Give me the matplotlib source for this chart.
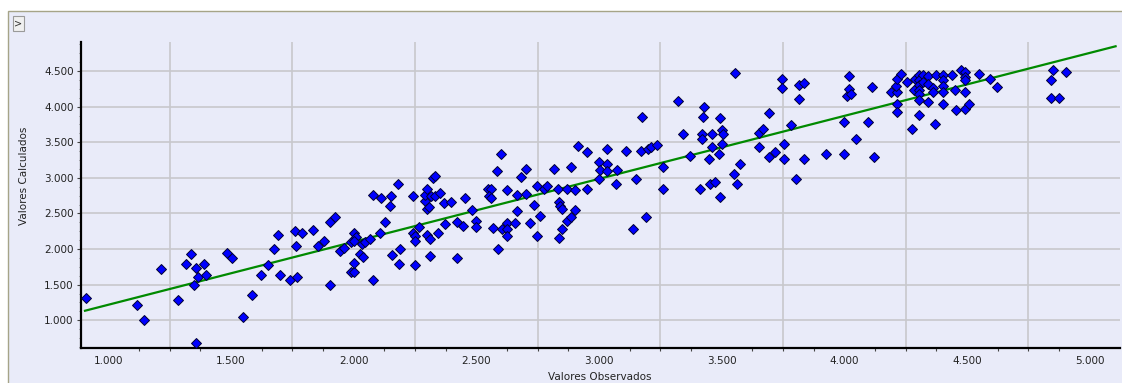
import numpy as np
import matplotlib
matplotlib.use('Agg')
import matplotlib.pyplot as plt
from matplotlib.patches import Rectangle
from matplotlib.ticker import FixedLocator, FuncFormatter

obs = [0.909, 1.118, 1.145, 1.215, 1.283, 1.336, 1.317, 1.359, 1.39, 1.367, 1.40, 1.349, 1.359,
       1.482, 1.505, 1.548, 1.584, 1.622, 1.65, 1.676, 1.69, 1.70, 1.74, 1.77, 1.76, 1.765,
       1.788, 1.834, 1.856, 1.88, 1.903, 1.923, 1.903, 1.944,
       1.96, 1.988, 2.001, 2.009, 2.001, 1.988, 2.001, 2.001, 2.024, 2.038, 2.034, 2.047, 2.066,
       2.08, 2.08, 2.107, 2.111, 2.126, 2.148, 2.153, 2.157, 2.18, 2.185, 2.19, 2.24, 2.24,
       2.251, 2.251, 2.251, 2.267, 2.292, 2.292, 2.297, 2.30, 2.307, 2.314, 2.324, 2.33, 2.33,
       2.352, 2.30, 2.31, 2.31, 2.344, 2.367, 2.371, 2.398, 2.421, 2.421, 2.445, 2.454, 2.482,
       2.50, 2.50, 2.547, 2.561, 2.55, 2.561, 2.569, 2.584, 2.588, 2.601, 2.606, 2.625, 2.625,
       2.625, 2.625, 2.657, 2.667, 2.667, 2.68, 2.703, 2.703, 2.718, 2.736, 2.746, 2.746, 2.759,
       2.775, 2.786, 2.815, 2.835, 2.84, 2.848, 2.833, 2.837, 2.848, 2.868, 2.87, 2.884, 2.884,
       2.903, 2.903, 2.915, 2.952, 2.952,
       3.0, 3.004, 3.0, 3.032, 3.032, 3.032, 3.07, 3.073, 3.111, 3.152, 3.138, 3.19, 3.17, 3.175,
       3.198, 3.211, 3.236, 3.259, 3.259, 3.323, 3.342, 3.37, 3.411, 3.42, 3.42, 3.429, 3.425,
       3.448, 3.452, 3.461, 3.461, 3.472, 3.49, 3.494, 3.494, 3.502, 3.505, 3.502, 3.55, 3.563,
       3.573, 3.554, 3.65, 3.669, 3.652, 3.694, 3.694, 3.717, 3.744, 3.744, 3.753, 3.753, 3.781,
       3.804, 3.816, 3.836, 3.816, 3.836, 3.925, 3.998, 3.998, 4.009, 4.017, 4.02,
       4.026, 4.113, 4.096, 4.048, 4.119, 4.19, 4.213, 4.21, 4.213, 4.23, 4.253, 4.213, 4.213,
       4.276, 4.303, 4.286, 4.303, 4.303, 4.321, 4.34, 4.303, 4.321, 4.34, 4.283, 4.303, 4.303,
       4.303, 4.359, 4.359, 4.34, 4.369, 4.374, 4.401, 4.401, 4.401, 4.401, 4.401, 4.438, 4.452,
       4.456, 4.474, 4.492, 4.492, 4.492, 4.492, 4.492, 4.506, 4.548, 4.594, 4.622,
       4.85, 4.904, 4.84, 4.84, 4.873]
calc = [1.31, 1.22, 1.01, 1.72, 1.29, 1.93, 1.79, 1.74, 1.79, 1.61, 1.64, 1.49, 0.68,
        1.95, 1.88, 1.05, 1.36, 1.63, 1.77, 2.00, 2.20, 1.63, 1.57, 1.61, 2.25, 2.05,
        2.22, 2.27, 2.05, 2.11, 2.375, 2.445, 1.50, 1.97,
        2.01, 2.10, 2.23, 2.17, 2.11, 1.68, 1.68, 1.80, 1.93, 1.89, 2.07, 2.10, 2.14,
        1.57, 2.76, 2.22, 2.72, 2.375, 2.60, 2.74, 1.91, 2.92, 1.79, 2.00, 2.74, 2.22,
        2.19, 2.12, 1.77, 2.31, 2.67, 2.76, 2.85, 2.56, 2.59, 2.74, 3.00, 3.03, 2.74,
        2.79, 2.20, 2.14, 1.90, 2.23, 2.64, 2.35, 2.66, 2.375, 1.87, 2.33, 2.71, 2.55,
        2.39, 2.31, 2.85, 2.85, 2.74, 2.72, 2.30, 3.10, 2.00, 3.34, 2.28, 2.365, 2.28,
        2.19, 2.83, 2.37, 2.76, 2.53, 3.01, 3.12, 2.77, 2.37, 2.62, 2.885, 2.19, 2.46,
        2.84, 2.885, 3.13, 2.66, 2.61, 2.56, 2.85, 2.15, 2.28, 2.85, 2.39, 2.455, 3.15,
        2.55, 2.83, 3.45, 2.85, 3.36,
        3.22, 3.115, 2.99, 3.40, 3.19, 3.09, 2.92, 3.115, 3.38, 2.99, 2.28, 2.445, 3.38, 3.855,
        3.40, 3.43, 3.455, 3.15, 2.85, 4.08, 3.61, 3.30, 2.85, 3.61, 3.55, 4.00, 3.855,
        3.27, 2.92, 3.61, 3.43, 2.94, 3.33, 3.84, 2.73, 3.67, 3.62, 3.48, 3.06, 2.92,
        3.19, 4.47, 3.63, 3.68, 3.43, 3.91, 3.29, 3.36, 4.39, 4.26, 3.47, 3.27, 3.74,
        2.99, 4.31, 4.33, 4.10, 3.27, 3.33, 3.33, 3.78, 4.145, 4.425, 4.25,
        4.17, 4.27, 3.79, 3.54, 3.29, 4.20, 4.20, 4.29, 4.39, 4.46, 4.34, 4.03, 3.92,
        3.68, 3.88, 4.39, 4.44, 4.37, 4.44, 4.43, 4.30, 4.35, 4.32, 4.24, 4.24, 4.18,
        4.09, 4.26, 4.20, 4.06, 3.75, 4.44, 4.44, 4.37, 4.285, 4.20, 4.03, 4.44, 4.23,
        3.95, 4.51, 4.48, 4.41, 4.38, 4.205, 3.96, 4.04, 4.46, 4.39, 4.27,
        4.51, 4.48, 4.37, 4.12, 4.12]

# fitted line as drawn on the chart
fit_slope = 0.884
fit_intercept = 0.334
fit_x = [0.905, 5.105]

x_labels = [1.0, 1.5, 2.0, 2.5, 3.0, 3.5, 4.0, 4.5, 5.0]
y_labels = [1.0, 1.5, 2.0, 2.5, 3.0, 3.5, 4.0, 4.5]

bg = '#E9EBF9'
txt = '#222222'

fig = plt.figure(figsize=(11.22, 3.83), dpi=100, facecolor='white')
W, H = 1122, 383

# outer panel, behind the axes
panel = Rectangle((8 / W, -0.05), 1.2, (383 - 11) / H + 0.05, transform=fig.transFigure,
                  facecolor=bg, edgecolor='#A6A488', linewidth=1.0, zorder=-5)
fig.patches.append(panel)

# little expand button in the corner
btn = Rectangle((13 / W, 1 - 31 / H), 11 / W, 15 / H, transform=fig.transFigure,
                facecolor='#F0F0F0', edgecolor='#9A9A9A', linewidth=0.8, zorder=1)
fig.patches.append(btn)
fig.text(18.5 / W, 1 - 23.5 / H, '>', ha='center', va='center', fontsize=7, color='#333333')

ax = fig.add_axes([80.7 / W, 1 - 348 / H, (1120 - 80.7) / W, (348 - 42) / H])
ax.set_facecolor(bg)
ax.set_xlim(0.8875, 5.123)
ax.set_ylim(0.611, 4.907)

for s in ['top', 'right']:
    ax.spines[s].set_visible(False)
for s in ['left', 'bottom']:
    ax.spines[s].set_linewidth(1.6)
    ax.spines[s].set_color('black')

fmt = FuncFormatter(lambda v, p: f'{v:.3f}')
ax.xaxis.set_major_locator(FixedLocator(x_labels))
ax.xaxis.set_major_formatter(fmt)
minor_x = [v for v in np.arange(0.875, 5.2, 0.125) if abs(v * 2 - round(v * 2)) > 1e-6]
ax.xaxis.set_minor_locator(FixedLocator(minor_x))
ax.yaxis.set_major_locator(FixedLocator(y_labels))
ax.yaxis.set_major_formatter(fmt)
ax.yaxis.set_minor_locator(FixedLocator(np.arange(0.625, 4.9, 0.125)))

ax.tick_params(axis='x', which='major', length=0, pad=6, labelsize=7.5, labelcolor=txt)
ax.tick_params(axis='x', which='minor', length=2.5, width=0.8, color='#444444')
ax.tick_params(axis='y', which='major', length=3, width=0.8, pad=2, labelsize=7.5,
               labelcolor=txt, color='#444444')
ax.tick_params(axis='y', which='minor', length=1.5, width=0.6, color='#777777')

# gridlines: horizontal at the labels, vertical halfway between the labels
ax.grid(axis='y', which='major', color='#C8C8CC', linewidth=1.2)
for gx in np.arange(1.25, 5.1, 0.5):
    ax.axvline(gx, color='#C8C8CC', linewidth=1.2, zorder=0.5)
ax.set_axisbelow(True)

lx = np.array(fit_x)
ax.plot(lx, fit_intercept + fit_slope * lx, color='#008A00', linewidth=1.6, zorder=2)

ax.plot(obs, calc, linestyle='none', marker='D', markersize=4.6, markerfacecolor='#0000FF',
        markeredgecolor='#000033', markeredgewidth=0.7, zorder=3)

fig.text(600 / W, 1 - 377 / H, 'Valores Observados', ha='center', va='center',
         fontsize=7.5, color=txt)
fig.text(24 / W, 1 - 176 / H, 'Valores Calculados', ha='center', va='center',
         rotation=90, fontsize=7.5, color=txt)

fig.savefig('out.png', dpi=100, facecolor='white')
